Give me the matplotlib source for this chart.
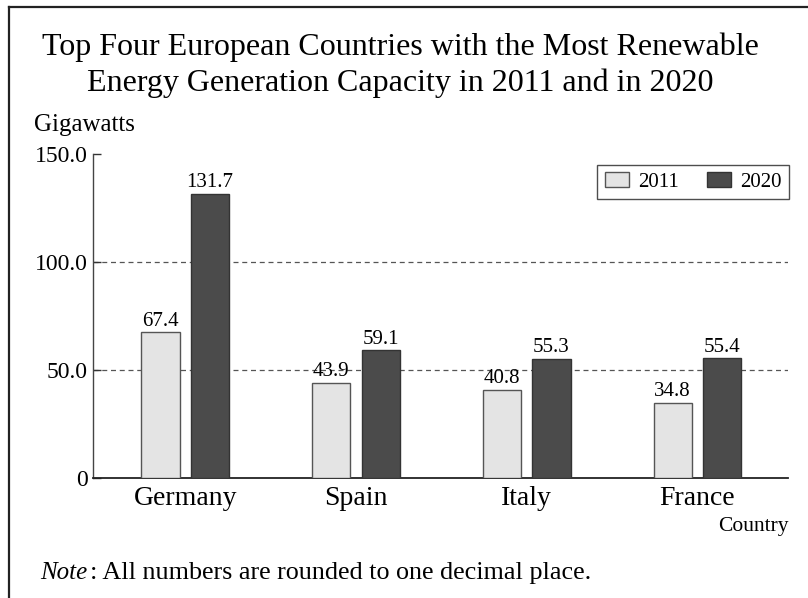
import matplotlib
matplotlib.use("Agg")
import matplotlib.pyplot as plt
from matplotlib.lines import Line2D
from matplotlib.patches import Patch
import numpy as np

categories = ["Germany", "Spain", "Italy", "France"]
values_2011 = [67.4, 43.9, 40.8, 34.8]
values_2020 = [131.7, 59.1, 55.3, 55.4]
series_names = ["2011", "2020"]
ytick_values = [0, 50, 100, 150]
ytick_labels = ["0", "50.0", "100.0", "150.0"]

FONT = "Liberation Serif"
plt.rcParams["font.family"] = [FONT, "DejaVu Serif"]

W, H = 808, 598
fig = plt.figure(figsize=(W / 100, H / 100), dpi=100)

def fx(px):
    return px / W

def fy(py):
    return 1 - py / H

# axes: left 93, right 788, top(150) 154, bottom(0) 478
ax = fig.add_axes([fx(93), fy(478), fx(788 - 93), (478 - 154) / H])

x = np.arange(len(categories))
bw = 0.225
off = 0.145
c11 = "#e4e4e4"
c20 = "#4b4b4b"
b1 = ax.bar(x - off, values_2011, bw, color=c11, edgecolor="#555555", linewidth=1.0, zorder=3)
b2 = ax.bar(x + off, values_2020, bw, color=c20, edgecolor="#333333", linewidth=1.0, zorder=3)

for rect, v in zip(b1, values_2011):
    ax.text(rect.get_x() + rect.get_width() / 2, v + 0.8, f"{v:.1f}", ha="center", va="bottom", fontsize=15)
for rect, v in zip(b2, values_2020):
    ax.text(rect.get_x() + rect.get_width() / 2, v + 0.8, f"{v:.1f}", ha="center", va="bottom", fontsize=15)

ax.set_xlim(-0.54, 3.53)
ax.set_ylim(0, 150)
ax.set_yticks(ytick_values)
ax.set_yticklabels(ytick_labels, fontsize=17)
ax.set_xticks(x)
ax.set_xticklabels(categories, fontsize=20)
ax.tick_params(axis="x", length=0, pad=6)
ax.tick_params(axis="y", length=6, width=1, direction="in", pad=4, color="#333333")

for yv in [50, 100]:
    ax.axhline(yv, color="#555555", linestyle=(0, (4, 3)), linewidth=0.9, zorder=1)

for s in ["top", "right"]:
    ax.spines[s].set_visible(False)
ax.spines["left"].set_color("#444444")
ax.spines["bottom"].set_color("#222222")
ax.spines["left"].set_linewidth(1.0)
ax.spines["bottom"].set_linewidth(1.3)

handles = [Patch(facecolor=c11, edgecolor="#555555", label=series_names[0]),
           Patch(facecolor=c20, edgecolor="#333333", label=series_names[1])]
leg = ax.legend(handles=handles, loc="upper right",
                bbox_to_anchor=((789 - 93) / (788 - 93), (478 - 165) / (478 - 154)),
                ncol=2, fontsize=15, frameon=True, fancybox=False, edgecolor="#222222",
                handlelength=1.15, handleheight=0.7, handletextpad=0.45, columnspacing=1.35,
                borderpad=0.35, borderaxespad=0)
leg._legend_box.sep = 0
leg.get_frame().set_linewidth(1.0)

# title
fig.text(fx(400), fy(47), "Top Four European Countries with the Most Renewable", ha="center", va="center", fontsize=23)
fig.text(fx(400), fy(83), "Energy Generation Capacity in 2011 and in 2020", ha="center", va="center", fontsize=23)

fig.text(fx(34), fy(125), "Gigawatts", ha="left", va="center", fontsize=18)
fig.text(fx(789), fy(527), "Country", ha="right", va="center", fontsize=15.5)

t1 = fig.text(fx(40), fy(573), "Note", ha="left", va="center", fontsize=18, style="italic")
ax.annotate(": All numbers are rounded to one decimal place.", xy=(1, 0.5), xycoords=t1,
            xytext=(3, 0), textcoords="offset pixels",
            ha="left", va="center", fontsize=18.8, annotation_clip=False)

# frame
fig.add_artist(Line2D([fx(9), fx(9)], [fy(7), 0], transform=fig.transFigure, color="#222222", linewidth=1.6))
fig.add_artist(Line2D([fx(9), 1], [fy(7), fy(7)], transform=fig.transFigure, color="#222222", linewidth=1.6))

fig.savefig("out.png", dpi=100)
